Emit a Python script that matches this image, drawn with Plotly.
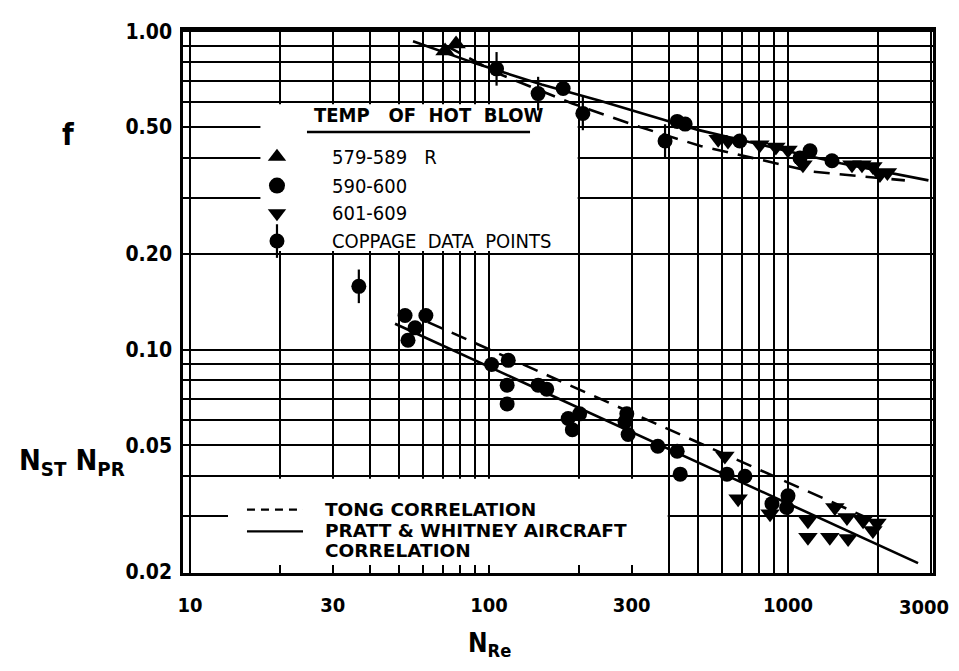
import plotly.graph_objects as go

# ---------------- data ----------------
# friction factor f  (upper group)
f_up_re = [71.3, 77.6]
f_up_val = [0.867, 0.912]
f_circ_re = [177, 426, 453, 690, 1097, 1185, 1403]
f_circ_val = [0.661, 0.521, 0.511, 0.452, 0.400, 0.421, 0.392]
f_down_re = [584, 630, 805, 911, 1000, 1122, 1637, 1768, 1923, 2030, 2150]
f_down_val = [0.458, 0.452, 0.440, 0.433, 0.424, 0.381, 0.381, 0.381, 0.376, 0.355, 0.360]
f_cop_re = [106, 146, 206, 388]
f_cop_val = [0.762, 0.637, 0.552, 0.452]

# Stanton * Prandtl (lower group)
st_circ_re = [52.4, 53.6, 56.6, 61.5, 102, 116, 115, 115, 146, 156, 184, 190, 201,
              285, 292, 289, 367, 426, 436, 625, 718, 884, 1000, 990]
st_circ_val = [0.128, 0.107, 0.117, 0.128, 0.0898, 0.0925, 0.0773, 0.0675, 0.0773, 0.0751,
               0.0607, 0.056, 0.0628, 0.0593, 0.0541, 0.0628, 0.0497, 0.0479, 0.0406,
               0.0406, 0.040, 0.0328, 0.0347, 0.0319]
st_down_re = [615, 681, 871, 1166, 1166, 1380, 1435, 1589, 1575, 1783, 1923, 1984]
st_down_val = [0.0463, 0.034, 0.0305, 0.029, 0.0257, 0.0257, 0.0319, 0.0255, 0.0297,
               0.029, 0.027, 0.0285]
st_cop_re = [36.7]
st_cop_val = [0.158]

# correlation curves
f_pw_re = [55.7, 91, 150, 235, 320, 500, 1000, 1500, 2950]
f_pw_val = [0.931, 0.79, 0.68, 0.605, 0.555, 0.49, 0.42, 0.385, 0.34]
f_tong_re = [72, 106, 190, 320, 510, 890, 1210, 2460]
f_tong_val = [0.90, 0.74, 0.593, 0.50, 0.436, 0.386, 0.362, 0.34]
st_pw_re = [48.5, 2723]
st_pw_val = [0.1205, 0.02134]
st_tong_re = [62.5, 2032]
st_tong_val = [0.122, 0.0284]

x_tick_vals = [10, 30, 100, 300, 1000, 3000]
x_tick_text = ["10", "30", "100", "300", "1000", ""]   # "3000" is placed as an annotation at the edge
x_last_label = "3000"
y_tick_vals = [0.02, 0.05, 0.1, 0.2, 0.5, 1.0]
y_tick_text = ["0.02", "0.05", "0.10", "0.20", "0.50", "1.00"]
x_grid_vals = [20, 30, 40, 50, 60, 70, 80, 90, 100, 200, 300, 400, 500, 600, 700, 800, 900, 1000, 2000]
y_grid_vals = [0.03, 0.04, 0.05, 0.06, 0.07, 0.08, 0.09, 0.1, 0.2, 0.3, 0.4, 0.5, 0.6, 0.7, 0.8, 0.9]

legend_temps = ["579-589   R", "590-600", "601-609", "COPPAGE  DATA  POINTS"]
legend_lines = ["TONG CORRELATION", "PRATT & WHITNEY AIRCRAFT", "CORRELATION"]

X_RANGE = [0.9766, 3.485]
Y_RANGE = [-1.702, 0.004]

NARROW = "DejaVu Sans Condensed, Liberation Sans Narrow, DejaVu Sans, sans-serif"
WIDE = "DejaVu Sans, Verdana, sans-serif"
BLK = "black"
MS = 15
TS = 17

fig = go.Figure()


def pts(x, y, sym, size=MS):
    fig.add_trace(go.Scatter(x=x, y=y, mode="markers",
                             marker=dict(symbol=sym, size=size, color=BLK, line=dict(width=0))))


def cop(x, y):
    fig.add_trace(go.Scatter(x=x, y=y, mode="markers",
                             marker=dict(symbol="line-ns", size=24, color=BLK, line=dict(width=2.2, color=BLK))))
    fig.add_trace(go.Scatter(x=x, y=y, mode="markers",
                             marker=dict(symbol="circle", size=MS, color=BLK)))


def corr(x, y, dash):
    fig.add_trace(go.Scatter(x=x, y=y, mode="lines",
                             line=dict(color=BLK, width=2.6, dash=dash)))


corr(f_pw_re, f_pw_val, "solid")
corr(f_tong_re, f_tong_val, "16px,10px")
corr(st_pw_re, st_pw_val, "solid")
corr(st_tong_re, st_tong_val, "16px,10px")

pts(f_up_re, f_up_val, "triangle-up", TS)
pts(f_circ_re, f_circ_val, "circle")
pts(f_down_re, f_down_val, "triangle-down", TS)
cop(f_cop_re, f_cop_val)
pts(st_circ_re, st_circ_val, "circle")
pts(st_down_re, st_down_val, "triangle-down", TS)
cop(st_cop_re, st_cop_val)

# ---------------- custom legend glyphs on an overlay axis ----------------
leg_x = 0.1253
leg_y = [0.7664, 0.7135, 0.6624, 0.6113]
fig.add_trace(go.Scatter(x=[leg_x] * 3, y=leg_y[:3], mode="markers", xaxis="x2", yaxis="y2",
                         marker=dict(symbol=["triangle-up", "circle", "triangle-down"], size=16, color=BLK)))
fig.add_trace(go.Scatter(x=[leg_x], y=[leg_y[3]], mode="markers", xaxis="x2", yaxis="y2",
                         marker=dict(symbol="line-ns", size=24, color=BLK, line=dict(width=2.2, color=BLK))))
fig.add_trace(go.Scatter(x=[leg_x], y=[leg_y[3]], mode="markers", xaxis="x2", yaxis="y2",
                         marker=dict(symbol="circle", size=MS, color=BLK)))

shapes = []
# white masks behind the two legend boxes (drawn above the grid, below the data)
shapes.append(dict(type="rect", xref="x", yref="y", layer="between",
                   x0=17.2, x1=198, y0=0.204, y1=0.59,
                   fillcolor="white", line=dict(width=0)))
shapes.append(dict(type="rect", xref="x", yref="y", layer="between",
                   x0=13.4, x1=396, y0=0.0195, y1=0.0393,
                   fillcolor="white", line=dict(width=0)))
# header underline
shapes.append(dict(type="line", xref="paper", yref="paper", x0=0.1653, x1=0.4627, y0=0.812, y1=0.812,
                   line=dict(color=BLK, width=2.5)))
# line samples
shapes.append(dict(type="line", xref="paper", yref="paper", x0=0.0853, x1=0.16, y0=0.1168, y1=0.1168,
                   line=dict(color=BLK, width=2.2, dash="8px,6px")))
shapes.append(dict(type="line", xref="paper", yref="paper", x0=0.0853, x1=0.16, y0=0.0766, y1=0.0766,
                   line=dict(color=BLK, width=2.2)))

ann = []
ann.append(dict(text="TEMP   OF  HOT  BLOW", x=0.172, y=0.843, xref="paper", yref="paper",
                xanchor="left", yanchor="middle", showarrow=False,
                font=dict(family=NARROW, size=20, color=BLK, weight="bold")))
for t, yy in zip(legend_temps, leg_y):
    ann.append(dict(text=t, x=0.196, y=yy, xref="paper", yref="paper", xanchor="left", yanchor="middle",
                    showarrow=False, font=dict(family=NARROW, size=20, color=BLK)))
for t, yy in zip(legend_lines, [0.1168, 0.0785, 0.042]):
    ann.append(dict(text=t, x=0.1867, y=yy, xref="paper", yref="paper", xanchor="left", yanchor="middle",
                    showarrow=False, font=dict(family=WIDE, size=18.5, color=BLK, weight="bold")))
# axis titles
ann.append(dict(text="f", x=-0.153, y=0.808, xref="paper", yref="paper", showarrow=False,
                xanchor="center", yanchor="middle",
                font=dict(family=NARROW, size=30, color=BLK, weight="bold")))
ann.append(dict(text="N<sub>ST</sub> N<sub>PR</sub>", x=-0.148, y=0.204, xref="paper", yref="paper",
                showarrow=False, xanchor="center", yanchor="middle",
                font=dict(family=NARROW, size=29, color=BLK, weight="bold")))
ann.append(dict(text="N<sub>Re</sub>", x=0.408, y=-0.131, xref="paper", yref="paper",
                showarrow=False, xanchor="center", yanchor="middle",
                font=dict(family=NARROW, size=26, color=BLK, weight="bold")))
# last x tick label, right-aligned to the figure edge so it is not clipped
ann.append(dict(text=x_last_label, x=1.0237, y=-0.0635, xref="paper", yref="paper",
                showarrow=False, xanchor="right", yanchor="middle",
                font=dict(family=NARROW, size=20, color=BLK, weight="bold")))

xtickfont = dict(family=NARROW, size=20, color=BLK, weight="bold")
ytickfont = dict(family=NARROW, size=21, color=BLK, weight="bold")
# the page keeps the browser's 8 px body margin: the figure is sized so that
# figure + margins exactly fill the 959x671 window (no scrollbars)
fig.update_layout(
    width=943, height=655, autosize=False, margin=dict(l=175, r=18, t=17, b=90),
    plot_bgcolor="white", paper_bgcolor="white", showlegend=False,
    shapes=shapes, annotations=ann,
    xaxis=dict(type="log", range=X_RANGE, showline=True, linecolor=BLK, linewidth=2.5, mirror=True,
               tickmode="array", tickvals=x_tick_vals, ticktext=x_tick_text, tickfont=xtickfont,
               showgrid=True, gridcolor=BLK, gridwidth=1.6, ticks="inside", ticklen=8, tickcolor=BLK,
               tickwidth=1.5, ticklabelstandoff=12, zeroline=False,
               minor=dict(tickmode="array", tickvals=x_grid_vals, showgrid=True, gridcolor=BLK,
                          gridwidth=1.6, ticks="inside", ticklen=8, tickcolor=BLK, tickwidth=1.5)),
    yaxis=dict(type="log", range=Y_RANGE, showline=True, linecolor=BLK, linewidth=2.5, mirror=True,
               tickmode="array", tickvals=y_tick_vals, ticktext=y_tick_text, tickfont=ytickfont,
               showgrid=True, gridcolor=BLK, gridwidth=1.6, ticks="", ticklabelstandoff=4, zeroline=False,
               minor=dict(tickmode="array", tickvals=y_grid_vals, showgrid=True, gridcolor=BLK,
                          gridwidth=1.6, ticks="")),
    xaxis2=dict(overlaying="x", range=[0, 1], visible=False, fixedrange=True),
    yaxis2=dict(overlaying="y", range=[0, 1], visible=False, fixedrange=True),
)

fig.write_html("out.html", config={"displayModeBar": False})
